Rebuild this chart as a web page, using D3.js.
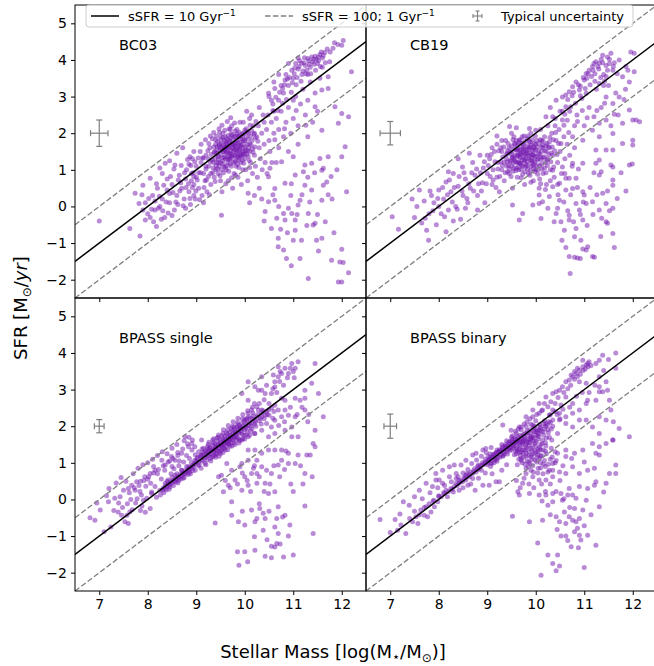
<!DOCTYPE html>
<html>
<head>
<meta charset="utf-8">
<script src="https://cdn.jsdelivr.net/npm/d3@7"></script>
<style>
  body { margin: 0; background: #fff; }
  svg { display: block; font-family: "DejaVu Sans", sans-serif; }
</style>
</head>
<body>
<svg id="chart" width="654" height="666"></svg>
<script>
// panel names, typical uncertainty per panel
const panelNames = ['BC03', 'CB19', 'BPASS single', 'BPASS binary'];
const errX = [0.18, 0.21, 0.10, 0.13];
const errY = [0.36, 0.32, 0.18, 0.33];
const uncPos = [7, 2];
const xTicks = [7, 8, 9, 10, 11, 12];
const yTicks = [-2, -1, 0, 1, 2, 3, 4, 5];
// sSFR lines: log SFR = log M + offset
const lineOffsets = [-8, -7, -9];

const bc03 = [
  [7.0,-0.4],[7.63,-0.6],[7.84,-0.81],[7.74,0.36],[7.9,0.58],[7.95,-0.37],[8.05,0.77],[8.18,-0.55],[8.15,-0.1],[8.22,-0.05],
  [8.3,0.2],[8.36,1.18],[8.56,1.13],[8.4,0.45],[8.45,0.1],[8.5,0.6],[8.1,0.3],[8.2,0.5],[8.0,-0.2],[8.35,-0.3],
  [8.6,0.3],[8.65,0.85],[8.7,0.5],[8.55,-0.1],[8.75,0.2],[8.8,1.0],[8.87,1.36],[8.9,0.7],[8.95,0.3],[8.6,1.45],
  [8.72,1.6],[8.3,0.9],[7.95,0.1],[7.9,-0.1],[8.05,-0.3],[8.25,0.0],[8.28,-0.35],[8.45,0.35],[8.5,-0.25],[8.62,0.05],
  [8.68,0.65],[8.78,0.75],[8.4,0.75],[8.15,0.15],[8.78,-0.05],[8.85,1.15],[8.25,1.05],[8.45,1.25],[8.95,1.5],
  [8.85,0.4],[8.9,0.9],[8.95,0.6],[9.0,1.1],[8.98,0.2],[8.92,1.3],[9.0,0.8],[8.88,0.05],
  [9.05,0.5],[9.1,1.2],[9.15,0.9],[9.08,1.5],[9.2,1.1],[9.12,0.3],[9.18,0.7],[9.1,1.7],[9.2,1.4],[9.15,0.1],
  [9.25,1.3],[9.3,0.9],[9.28,1.6],[9.35,1.2],[9.38,1.5],[9.3,0.6],[9.4,1.0],[9.33,1.85],[9.22,0.4],[9.37,0.8],[9.26,1.1],[9.4,1.7],
  [9.45,1.4],[9.5,1.2],[9.48,1.7],[9.55,1.5],[9.52,1.0],[9.58,1.8],[9.42,1.2],[9.6,1.3],[9.5,0.7],[9.55,2.0],[9.45,0.9],[9.57,1.1],
  [9.6,1.6],[9.43,1.55],[9.5,1.9],[9.53,0.4],
  [9.65,1.5],[9.7,1.3],[9.68,1.8],[9.75,1.6],[9.72,1.1],[9.78,1.9],[9.62,1.0],[9.8,1.4],[9.7,2.1],[9.66,0.7],[9.76,1.2],[9.8,1.7],
  [9.63,1.7],[9.73,2.2],[9.78,0.9],[9.69,1.45],[9.75,0.5],
  [9.85,1.6],[9.9,1.4],[9.88,1.9],[9.95,1.7],[9.92,1.2],[9.98,2.0],[9.82,1.1],[10.0,1.5],[9.9,2.3],[9.86,0.8],[9.96,1.0],[10.0,1.8],
  [9.84,2.1],[9.93,0.6],[9.97,2.3],[9.89,1.55],
  [10.05,1.7],[10.1,1.5],[10.08,2.0],[10.15,1.8],[10.12,1.2],[10.18,2.2],[10.02,1.0],[10.2,1.4],[10.1,2.4],[10.06,0.7],[10.16,0.9],
  [10.2,2.0],[10.04,2.6],[10.14,2.5],
  [10.25,1.9],[10.3,1.6],[10.28,2.2],[10.35,2.0],[10.32,1.3],[10.38,2.5],[10.22,1.1],[10.4,1.7],[10.3,2.7],[10.26,0.8],[10.36,1.0],[10.4,2.3],
  [10.45,2.1],[10.5,1.8],[10.48,2.5],[10.55,2.3],[10.52,1.5],[10.58,2.8],[10.42,1.2],[10.6,2.0],[10.5,3.0],[10.46,0.9],[10.56,1.2],[10.6,2.6],
  [9.45,1.35],[9.55,1.25],[9.62,1.45],[9.68,1.6],[9.72,1.4],[9.8,1.55],[9.85,1.35],[9.9,1.75],[9.95,1.5],[10.0,1.3],
  [9.5,1.6],[9.6,1.9],[9.7,1.75],[9.65,1.2],[9.75,1.85],[9.82,1.25],[9.88,1.65],[9.92,1.85],[9.58,1.55],[9.52,1.4],
  [9.38,1.3],[9.42,1.45],[9.35,1.05],[9.47,1.1],[9.63,1.35],[9.77,1.5],[9.83,1.8],[9.97,1.6],[10.03,1.9],[10.08,1.6],
  [9.31,1.42],[9.36,1.62],[9.41,1.12],[9.44,1.78],[9.46,1.28],[9.49,1.52],[9.51,1.82],[9.54,1.16],[9.56,1.68],[9.59,1.34],
  [9.61,1.58],[9.64,1.84],[9.66,1.28],[9.67,1.66],[9.71,1.52],[9.74,1.34],[9.74,1.96],[9.77,1.68],[9.79,1.22],[9.81,1.92],
  [9.83,1.48],[9.86,1.74],[9.87,1.28],[9.89,2.02],[9.91,1.62],[9.94,1.38],[9.96,1.82],[9.98,1.18],[10.01,1.62],[10.03,2.12],
  [10.04,1.42],[10.07,1.84],[10.09,1.26],[10.11,2.22],[10.13,1.68],[10.17,1.48],[10.19,1.98],[10.21,1.62],[10.23,2.32],[10.27,1.78],
  [9.34,0.92],[9.39,0.68],[9.44,1.02],[9.49,0.84],[9.56,0.92],[9.61,0.62],[9.67,0.96],[9.73,0.78],[9.81,0.86],[9.88,1.06],
  [9.26,1.72],[9.29,1.92],[9.36,2.02],[9.41,1.92],[9.47,2.12],[9.53,2.22],[9.59,2.08],[9.64,2.32],[9.71,2.42],[9.79,2.28],
  [9.58,1.62],[9.63,1.48],[9.69,1.38],[9.73,1.72],[9.76,1.58],[9.81,1.62],[9.84,1.98],[9.92,1.42],[9.95,1.92],[10.0,2.08],
  [9.47,1.66],[9.53,1.58],[9.62,1.72],[9.66,1.94],[9.72,1.98],[9.86,1.42],[9.9,1.52],[9.99,1.44],[10.06,1.52],[10.12,1.92],
  [9.33,1.27],[9.37,1.47],[9.43,1.63],[9.46,1.19],[9.52,1.71],[9.54,1.33],[9.57,1.49],[9.61,1.77],[9.63,1.11],[9.66,1.63],
  [9.69,1.29],[9.7,1.87],[9.73,1.43],[9.76,1.69],[9.79,1.37],[9.82,1.73],[9.84,1.53],[9.87,1.91],[9.89,1.33],[9.92,1.67],
  [9.94,1.97],[9.97,1.41],[9.99,1.79],[10.02,1.53],[10.05,2.03],[10.07,1.37],[10.1,1.71],[10.14,2.07],[10.16,1.57],[10.22,1.87],
  [9.4,1.82],[9.48,2.02],[9.55,1.88],[9.68,2.12],[9.8,2.06],[9.6,1.06],[9.7,1.16],[9.85,1.16],[9.95,1.26],[10.1,1.06],
  [9.2,1.02],[9.15,1.32],[9.05,0.92],[8.95,0.82],[9.25,0.82],
  [8.12,-0.42],[8.18,0.62],[8.24,0.28],[8.31,-0.12],[8.33,0.58],[8.38,0.12],[8.42,-0.18],[8.47,0.82],[8.52,0.38],[8.54,1.02],
  [8.58,0.12],[8.63,0.72],[8.66,0.42],[8.69,1.12],[8.73,0.02],[8.76,0.92],[8.79,0.52],[8.82,1.28],[8.84,0.62],[8.87,0.22],
  [8.89,1.12],[8.92,0.52],[8.94,0.92],[8.97,1.22],[8.99,0.42],[9.02,0.72],[9.04,1.32],[9.07,0.18],[9.09,0.92],[9.13,1.32],
  [9.16,0.52],[9.19,1.82],[9.21,0.72],[9.24,1.52],[9.27,0.32],[9.29,1.22],[7.82,0.08],[7.88,0.32],[8.02,0.22],[8.08,-0.08],
  [10.62,3.22],[10.49,3.09],[10.83,3.45],[10.97,3.72],[11.17,3.91],[11.3,4.04],[11.45,4.1],[11.55,4.15],[11.6,4.05],[11.4,3.95],
  [11.5,3.9],[11.35,3.8],[11.2,3.7],[11.1,3.75],[11.0,3.5],[10.9,3.3],[10.8,3.1],[10.7,2.9],[10.75,3.3],[10.85,3.6],
  [11.05,3.9],[11.25,3.85],[11.65,4.2],[11.7,4.3],[11.85,4.47],[12.03,4.53],[12.0,4.4],[11.75,3.95],[11.6,3.8],[11.72,3.54],
  [12.2,3.68],[11.59,3.18],[11.72,3.22],[11.45,2.72],[11.86,2.72],[12.0,2.54],[12.14,2.45],[11.93,2.27],[11.59,2.08],[12.07,1.63],
  [12.0,1.36],[11.72,1.36],[10.65,2.4],[10.7,2.1],[10.75,2.6],[10.8,1.9],[10.85,2.3],[10.9,2.7],[10.95,2.0],[11.0,2.4],
  [11.05,3.0],[11.1,2.2],[11.15,2.8],[11.2,3.2],[11.25,2.5],[11.3,2.9],[11.35,3.4],[11.4,2.3],[11.45,3.1],[11.5,2.6],
  [11.55,3.5],[11.3,1.9],[11.1,1.7],[10.9,1.5],[10.7,1.6],[10.65,1.2],[11.0,2.9],[10.6,3.4],[10.55,2.9],[10.7,3.6],
  [10.9,3.9],[11.3,3.6],[11.1,4.05],
  [10.64,2.98],[10.68,2.62],[10.72,3.12],[10.78,2.82],[10.82,3.32],[10.86,2.92],[10.92,3.52],[10.96,3.12],[11.02,3.62],[11.06,3.32],
  [11.12,3.82],[11.16,3.42],[11.22,3.92],[11.26,3.62],[11.32,3.98],[11.36,3.62],[11.42,4.02],[11.46,3.72],[11.52,4.08],[11.56,3.82],
  [11.62,4.12],[11.66,3.92],[11.76,4.22],[11.82,4.32],[11.92,4.42],[10.58,2.62],[10.62,1.82],[10.82,2.12],[11.06,2.62],[11.26,2.22],
  [11.03,3.78],[11.13,3.98],[11.23,4.06],[11.33,3.88],[11.43,3.88],[11.48,4.02],[11.38,4.08],[11.18,3.6],[11.28,3.72],[10.98,3.38],
  [10.88,3.48],[10.78,3.22],[11.58,4.22],[11.52,3.98],[11.08,3.52],
  [10.49,0.81],[10.62,0.17],[10.42,-0.14],[10.55,-0.6],[10.69,-0.87],[10.69,-1.1],[10.8,-1.19],[10.86,-1.42],[10.83,-0.37],[10.8,-0.19],
  [10.9,-0.05],[11.04,0.86],[11.21,0.95],[11.24,0.58],[11.38,0.45],[11.62,0.58],[11.69,0.67],[11.59,0.99],[11.62,1.04],[11.04,-0.37],
  [10.97,-0.19],[11.1,0.04],[11.14,0.17],[11.31,-0.19],[11.41,-0.51],[11.45,-0.46],[11.59,-0.87],[11.48,-0.92],[11.17,-0.92],[11.0,-0.92],
  [11.04,-0.65],[11.31,-1.97],[11.79,-1.47],[12.0,-1.17],[12.03,-1.53],[11.93,-2.06],[12.0,-2.06],[12.14,-1.81],[11.59,0.17],[10.62,0.49],
  [10.83,0.63],[10.52,1.04],[10.76,1.22],[11.0,1.36],[11.24,1.13],[11.55,1.31],[11.38,1.18],[10.49,0.13],[10.3,0.5],[10.35,0.2],
  [10.2,0.3],[10.1,0.1],[10.4,-0.4],[10.95,0.3],[11.3,0.8],[11.8,0.2],[11.9,1.0],[10.7,0.0],[9.52,-0.24],[10.07,0.36],
  [10.58,0.32],[10.74,-0.62],[10.88,-0.72],[10.96,0.62],[11.08,-0.22],[11.18,0.32],[11.28,-0.52],[11.34,0.12],[11.5,-0.22],[11.66,-0.42],
  [11.72,0.32],[11.84,-0.72],[11.96,-1.52],[10.66,-0.32],[10.96,-1.62],[11.14,-1.42],[11.44,0.92],[11.78,0.82],[12.1,0.4],[11.52,-1.22]
];

const cb19 = [
  [7.04,-0.28],[7.17,-0.62],[7.79,-0.92],[8.15,-0.69],[7.5,-0.3],[7.55,0.0],[7.65,-0.45],[7.7,0.15],[7.8,-0.2],[7.85,0.3],
  [7.95,-0.5],[7.9,0.1],[8.0,0.45],[8.05,-0.2],[8.1,0.2],[8.15,0.67],[8.2,-0.1],[8.25,0.4],[8.3,0.9],[8.35,0.0],
  [8.4,0.55],[8.45,-0.35],[8.49,1.08],[8.5,0.3],[8.55,0.75],[8.6,0.1],[8.63,1.45],[8.65,0.5],[8.7,1.2],[8.75,0.85],
  [8.8,0.3],[8.85,1.4],[8.9,0.65],[8.92,1.05],[8.95,0.1],[7.6,0.45],[7.75,-0.65],[8.0,0.0],[8.3,-0.4],[8.4,1.3],
  [8.2,0.95],[7.45,0.2],[8.55,-0.05],[8.8,-0.1],[9.3,1.8],[9.2,1.7],[9.1,1.6],[9.5,2.0],[9.6,2.15],[9.0,1.4],
  [9.0,0.9],[9.05,1.3],[9.1,0.6],[9.12,1.0],[9.15,1.5],[9.2,0.8],[9.22,1.2],[9.25,0.4],[9.28,1.6],[9.3,1.0],
  [9.32,1.35],[9.35,0.7],[9.38,1.8],[9.4,1.1],[9.42,1.45],[9.45,0.9],[9.48,1.25],[9.5,1.65],[9.52,0.5],[9.55,1.05],
  [9.57,1.4],[9.6,1.8],[9.62,0.8],[9.65,1.2],[9.67,1.55],[9.7,1.0],[9.72,1.9],[9.75,1.35],[9.77,0.6],[9.8,1.15],
  [9.82,1.65],[9.85,0.9],[9.87,1.45],[9.9,2.0],[9.92,1.2],[9.95,0.7],[9.97,1.6],[10.0,1.0],[10.02,1.8],[10.05,1.3],
  [10.07,0.5],[10.1,2.1],[10.12,1.5],[10.15,0.9],[10.18,1.9],[10.2,1.2],[10.22,0.6],[10.25,2.2],[10.28,1.6],[10.3,1.0],
  [10.33,2.0],[10.35,1.4],[10.38,0.8],[10.4,2.4],[10.42,1.8],[10.45,1.2],[10.48,2.1],[10.5,1.5],[10.53,0.9],[10.55,2.6],
  [10.58,1.9],[10.6,1.3],[9.45,1.6],[9.55,1.3],[9.6,1.55],[9.65,1.0],[9.7,1.45],[9.75,1.7],[9.8,1.3],[9.85,1.6],
  [9.9,1.1],[9.95,1.4],[10.0,1.7],[10.05,1.0],[10.1,1.35],[9.5,1.1],[9.4,1.3],[9.3,1.5],[9.35,1.2],[9.62,1.2],
  [9.72,1.25],[9.82,1.45],[9.92,1.55],[10.15,1.6],[10.25,1.3],[9.78,0.95],[9.88,0.85],[9.98,0.95],[10.08,0.75],[10.18,1.05],
  [10.3,0.7],[10.45,0.6],[10.6,0.9],[10.7,1.4],[10.75,1.1],[10.8,1.6],[10.65,1.7],[9.58,1.7],[9.68,1.35],[9.78,1.55],
  [9.88,1.75],[9.98,1.35],[10.12,1.8],[10.22,1.5],[9.52,1.35],[9.42,0.95],[9.63,1.4],[9.73,1.1],[9.83,1.85],[9.93,1.25],
  [9.31,1.12],[9.34,1.62],[9.37,0.92],[9.39,1.42],[9.43,1.72],[9.44,1.12],[9.47,1.48],[9.49,0.82],[9.51,1.32],[9.53,1.82],
  [9.54,1.18],[9.57,1.58],[9.59,0.98],[9.61,1.38],[9.63,1.68],[9.64,1.08],[9.66,1.42],[9.68,1.82],[9.69,1.18],[9.71,1.58],
  [9.73,0.88],[9.74,1.48],[9.76,1.28],[9.78,1.78],[9.79,1.08],[9.81,1.52],[9.83,1.22],[9.84,1.92],[9.86,1.32],[9.88,1.62],
  [9.89,0.98],[9.91,1.42],[9.93,1.82],[9.94,1.12],[9.96,1.52],[9.98,1.22],[9.99,1.92],[10.01,1.38],[10.03,1.62],[10.04,0.88],
  [10.06,1.52],[10.08,1.12],[10.09,1.82],[10.11,1.28],[10.13,1.02],[10.14,1.68],[10.16,1.32],[10.19,1.52],[10.21,0.92],[10.23,1.72],
  [10.24,1.12],[10.27,1.42],[10.29,1.88],[10.31,1.22],[10.34,1.62],[10.37,1.08],[10.39,1.52],[10.41,2.02],[10.44,1.42],[10.47,1.72],
  [9.58,1.22],[9.62,1.52],[9.67,1.32],[9.72,1.72],[9.77,1.42],[9.82,1.12],[9.87,1.78],[9.92,1.32],[9.97,1.72],[10.02,1.12],
  [9.52,1.52],[9.47,1.22],[9.42,1.52],[9.56,1.72],[9.76,1.92],[9.96,1.02],[10.12,1.62],[10.26,1.62],[10.36,1.82],[10.52,1.72],
  [9.41,1.22],[9.46,1.02],[9.5,1.42],[9.53,0.96],[9.57,1.26],[9.6,1.04],[9.63,1.56],[9.66,1.18],[9.69,1.46],[9.71,1.12],
  [9.74,1.62],[9.77,1.24],[9.8,1.44],[9.83,1.02],[9.86,1.56],[9.89,1.26],[9.91,1.68],[9.94,1.42],[9.97,1.14],[10.0,1.54],
  [10.03,1.26],[10.06,1.72],[10.09,1.42],[10.12,1.16],[10.15,1.78],[10.18,1.36],[10.21,1.66],[10.24,1.26],[10.28,1.76],[10.32,1.46],
  [9.55,1.9],[9.65,1.74],[9.75,1.56],[9.85,1.38],[9.95,1.62],[10.05,1.44],[9.7,0.78],[9.9,0.66],[10.1,0.62],[10.2,0.46],
  [7.72,-0.32],[7.82,0.42],[7.88,-0.12],[7.98,0.22],[8.08,0.52],[8.12,-0.28],[8.18,0.32],[8.22,0.72],[8.28,0.12],[8.32,0.52],
  [8.38,-0.08],[8.42,0.82],[8.48,0.42],[8.52,0.92],[8.58,0.22],[8.62,0.62],[8.68,0.92],[8.72,0.42],[8.78,1.02],[8.82,0.62],
  [8.86,0.92],[8.88,0.42],[8.94,1.22],[8.98,0.62],[9.02,1.12],[9.06,0.82],[9.08,1.42],[9.12,0.72],[9.16,1.22],[9.18,0.52],
  [9.22,1.02],[9.24,1.52],[9.26,0.82],[9.28,1.22],[9.2,1.92],
  [11.55,4.18],[11.38,4.13],[11.96,4.22],[12.03,4.18],[11.24,3.95],[11.31,3.91],[11.17,3.82],[11.1,3.72],[11.04,3.63],[11.52,3.9],
  [11.59,3.72],[11.72,4.0],[11.86,3.82],[12.03,3.68],[11.79,3.54],[11.93,3.4],[10.83,3.4],[10.76,3.27],[10.69,3.13],[10.62,3.04],
  [10.9,3.18],[11.04,3.09],[11.31,3.36],[11.45,2.99],[11.59,2.81],[11.72,2.99],[11.93,2.63],[12.0,2.36],[12.14,2.31],[11.79,2.27],
  [11.45,2.36],[11.31,2.27],[11.17,2.08],[11.31,1.9],[10.97,1.81],[10.76,1.9],[10.55,2.36],[10.35,2.45],[10.21,2.45],[10.62,2.72],
  [10.42,2.9],[10.55,2.99],[9.46,2.18],[9.87,2.13],[10.0,2.08],[9.66,1.81],[12.0,1.81],[12.0,1.68],[11.79,1.72],[11.59,1.99],
  [12.07,2.36],[11.0,3.45],[11.15,3.55],[11.4,3.6],[11.25,3.2],[10.95,2.95],[11.1,2.7],[10.85,2.5],[11.0,2.2],[10.7,2.6],
  [11.35,2.7],[11.5,3.3],[11.65,3.1],[11.2,2.45],[10.8,2.2],[10.65,2.35],[10.5,2.6],[11.45,3.55],[11.3,3.75],[11.45,3.85],
  [11.85,3.2],[11.7,2.5],[11.55,2.2],[10.4,2.2],[10.3,2.7],
  [10.66,2.92],[10.72,2.72],[10.78,3.12],[10.82,2.82],[10.88,3.32],[10.92,3.02],[10.98,3.52],[11.02,3.22],[11.08,3.62],[11.12,3.32],
  [11.18,3.72],[11.22,3.42],[11.28,3.82],[11.34,3.52],[11.38,3.92],[11.42,3.42],[11.48,3.72],[11.52,4.02],[11.62,3.92],[11.68,3.62],
  [10.58,2.22],[10.68,2.02],[10.86,2.32],[10.96,2.62],[11.06,2.42],[11.26,2.62],[11.42,2.82],[11.62,2.52],[11.82,2.92],[11.9,3.72],
  [11.2,3.9],[11.35,4.02],[11.48,4.08],[11.05,3.5],[11.22,3.62],[10.92,3.28],[10.75,3.02],[11.6,3.82],[11.4,3.3],[10.6,2.52],
  [10.69,-1.37],[10.8,-1.39],[10.86,-1.41],[10.71,-1.83],[11.17,-1.37],[11.21,-1.39],[11.04,-1.19],[10.97,-1.16],[11.07,-1.1],[11.62,-1.12],
  [11.59,-0.74],[11.45,-0.42],[11.48,-0.46],[10.93,-0.92],[10.8,-0.83],[10.83,-0.6],[10.59,-0.65],[10.52,-0.42],[10.69,-0.37],[10.97,-0.37],
  [10.9,-0.1],[11.04,0.08],[11.17,0.13],[11.31,-0.1],[11.45,0.08],[11.59,-0.05],[11.38,0.36],[11.59,0.58],[11.59,0.72],[11.31,0.86],
  [11.35,0.95],[11.55,1.13],[11.93,1.13],[11.99,1.16],[11.24,1.18],[10.97,1.18],[10.76,1.18],[10.62,0.77],[10.69,0.77],[10.83,0.77],
  [10.97,0.4],[11.0,0.31],[10.83,0.08],[10.69,-0.24],[10.42,-0.19],[10.45,-0.05],[10.25,-0.05],[10.11,-0.33],[10.14,0.13],[9.94,0.04],
  [10.07,0.31],[10.07,0.08],[11.24,1.54],[11.45,1.54],[11.59,1.54],[11.31,1.27],[11.59,1.08],[9.66,-0.37],[9.73,-0.19],[9.52,0.04],
  [10.49,0.17],[10.62,0.45],[10.28,0.27],[10.35,0.54],[10.49,0.63],[10.76,0.49],[10.35,0.99],[10.55,1.08],
  [10.58,0.12],[10.66,-0.12],[10.72,0.32],[10.78,-0.42],[10.86,0.52],[10.92,-0.22],[10.98,0.12],[11.06,-0.52],[11.12,0.52],[11.18,-0.22],
  [11.26,0.32],[11.36,-0.32],[11.48,0.42],[11.52,-0.12],[11.68,0.22],[11.76,0.92],[11.86,0.42],[10.46,0.32],[10.38,-0.42],[10.54,-0.92],
  [10.62,-1.12],[10.92,-1.42],[11.34,-0.82],[11.2,0.92],[10.88,1.02]
];

const bpassSingle = [
  [6.81,-0.5],[6.91,-0.57],[7.02,-0.29],[7.1,-0.88],[7.24,-0.75],[7.19,-0.06],[7.32,0.03],[7.43,0.07],[7.39,-0.34],[7.46,-0.43],
  [7.53,-0.61],[7.6,-0.66],[7.57,-0.43],[7.63,-0.34],[7.5,0.25],[7.6,0.3],[7.67,0.39],[7.77,0.48],[7.74,0.25],[7.87,0.12],
  [7.98,0.03],[7.91,-0.02],[8.08,0.16],[7.94,0.62],[8.05,0.71],[8.15,0.8],[8.29,1.07],[8.36,0.94],[8.49,1.17],[8.56,1.07],
  [8.7,1.26],[8.84,1.44],[8.91,1.35],[8.97,1.44],[8.36,0.44],[8.42,0.53],[8.56,0.66],[8.7,0.8],[8.84,0.89],[8.97,1.07],
  [9.11,1.21],[9.25,1.3],[9.39,1.39],[9.52,1.48],[9.66,1.57],[8.15,0.35],[8.25,0.25],[8.08,0.2],
  [7.2,0.3],[7.35,0.45],[7.45,0.6],[7.55,0.5],[7.7,0.7],[7.8,0.85],[7.9,0.95],[8.0,1.0],[8.1,1.1],[8.2,1.2],
  [8.3,1.3],[8.4,1.25],[8.5,1.4],[8.6,1.5],[8.75,1.6],[8.85,1.7],[7.85,0.5],[8.0,0.55],[8.2,0.7],[8.35,0.8],
  [8.5,0.9],[8.65,1.05],[8.8,1.2],[7.4,-0.1],[7.3,-0.3],[7.65,0.0],[7.75,-0.1],[7.85,-0.3],[7.95,-0.35],[8.05,-0.25],
  [7.15,0.1],[6.95,-0.1],[8.77,1.71],[8.91,1.53],[9.11,1.62],[8.62,1.2],[8.45,1.05],[8.12,0.9],
  [9.0,1.05],[9.03,1.15],[9.06,0.95],[9.1,1.2],[9.13,1.05],[9.16,1.25],[9.2,1.15],[9.22,1.3],[9.25,1.2],[9.28,1.4],
  [9.3,1.25],[9.33,1.35],[9.36,1.3],[9.4,1.45],[9.42,1.35],[9.45,1.5],[9.48,1.4],[9.5,1.55],[9.53,1.45],[9.56,1.6],
  [9.58,1.5],[9.6,1.65],[9.63,1.55],[9.66,1.7],[9.68,1.6],[9.7,1.75],[9.73,1.65],[9.76,1.8],[9.78,1.7],[9.8,1.85],
  [9.83,1.75],[9.86,1.9],[9.88,1.8],[9.9,1.95],[9.93,1.85],[9.96,2.0],[10.0,1.9],[10.03,2.05],[10.06,1.95],[10.1,2.1],
  [10.13,2.0],[10.16,2.2],[10.2,2.05],[10.25,2.25],[10.3,2.15],[10.35,2.35],[9.05,1.3],[9.15,1.4],[9.25,1.5],[9.35,1.55],
  [9.45,1.7],[9.55,1.8],[9.65,1.9],[9.75,2.0],[9.85,2.1],[9.95,2.2],[9.1,0.85],[9.2,0.95],[9.3,1.05],[9.4,1.15],
  [9.5,1.25],[9.6,1.35],[9.7,1.45],[9.8,1.5],[9.9,1.6],[10.0,1.65],[10.1,1.75],[10.2,1.8],[9.38,1.2],[9.48,1.3],
  [9.58,1.4],[9.68,1.5],[9.78,1.55],[9.88,1.65],[9.98,1.75],[9.32,1.15],[9.42,1.25],[9.52,1.35],[9.62,1.45],[9.72,1.55],
  [8.95,0.95],[8.9,0.85],[8.85,0.8],[8.8,0.75],[8.75,0.7],[8.7,0.65],[8.65,0.6],[8.6,0.55],[8.55,0.5],[8.5,0.45],
  [8.45,0.4],[8.4,0.35],[8.35,0.3],[8.3,0.25],[8.9,1.0],[8.8,0.9],[8.7,0.8],[8.6,0.7],[8.5,0.6],[8.4,0.5],
  [8.62,0.45],[8.75,0.6],[8.88,0.7],[8.98,0.8],[10.4,2.2],[10.45,2.4],[10.5,2.3],[10.55,2.5],[10.6,2.4],
  [9.02,1.12],[9.05,1.02],[9.08,1.18],[9.11,1.08],[9.14,1.28],[9.17,1.14],[9.19,1.32],[9.21,1.22],[9.24,1.38],[9.27,1.24],
  [9.29,1.42],[9.31,1.32],[9.34,1.48],[9.37,1.36],[9.39,1.52],[9.41,1.42],[9.44,1.58],[9.46,1.46],[9.49,1.62],[9.51,1.5],
  [9.54,1.66],[9.57,1.54],[9.59,1.72],[9.61,1.6],[9.64,1.78],[9.67,1.64],[9.69,1.82],[9.71,1.7],[9.74,1.88],[9.77,1.74],
  [9.79,1.92],[9.81,1.8],[9.84,1.98],[9.87,1.84],[9.89,2.02],[9.91,1.88],[9.94,2.08],[9.97,1.94],[9.99,2.12],[10.02,1.98],
  [10.04,2.16],[10.08,2.02],[10.11,2.22],[10.14,2.08],[10.18,2.28],[10.22,2.12],[10.27,2.32],[10.32,2.22],[10.38,2.42],[10.42,2.3],
  [9.22,1.08],[9.35,1.18],[9.47,1.32],[9.56,1.4],[9.66,1.52],[9.75,1.62],[9.85,1.68],[9.95,1.78],[10.05,1.84],[10.15,1.92],
  [9.26,1.56],[9.36,1.66],[9.46,1.76],[9.56,1.9],[9.66,2.02],[9.76,2.12],[9.86,2.22],[9.96,2.32],[10.06,2.42],[10.16,2.52],
  [9.12,1.38],[9.18,0.98],[9.23,1.44],[9.29,1.12],[9.34,1.62],[9.4,1.26],[9.43,1.68],[9.47,1.18],[9.53,1.74],[9.55,1.28],
  [9.59,1.56],[9.62,1.82],[9.65,1.36],[9.69,1.66],[9.72,1.94],[9.74,1.46],[9.78,1.98],[9.82,1.62],[9.86,2.04],[9.88,1.54],
  [9.92,1.96],[9.96,1.66],[10.0,2.18],[10.03,1.76],[10.08,2.26],[10.12,1.86],[10.17,2.36],[10.23,2.0],[10.28,2.44],[10.34,2.06],
  [8.58,0.48],[8.68,0.56],[8.78,0.7],[8.86,0.74],[8.94,0.88],[9.04,0.92],[8.46,0.34],[8.38,0.26],[8.26,0.12],[8.18,0.06],
  [8.64,0.92],[8.54,0.84],[8.74,1.02],[8.86,1.12],[8.98,1.22],[7.84,0.22],[7.96,0.36],[8.06,0.44],[8.28,0.56],[8.48,0.7],
  [8.32,0.32],[8.37,0.38],[8.43,0.42],[8.47,0.48],[8.52,0.52],[8.57,0.58],[8.62,0.62],[8.67,0.68],[8.72,0.72],[8.77,0.78],
  [8.82,0.82],[8.87,0.88],[8.92,0.92],[8.97,0.98],[8.33,0.18],[8.44,0.28],[8.53,0.38],[8.64,0.52],[8.73,0.58],[8.83,0.68],
  [8.93,0.78],[7.62,0.18],[7.72,0.32],[7.82,0.38],[7.92,0.52],[8.02,0.62],[8.12,0.72],[8.22,0.82],[8.32,0.92],[8.42,1.02],
  [8.52,1.12],[8.62,1.28],[8.72,1.38],[8.82,1.52],[8.92,1.62],[7.48,-0.22],[7.58,-0.12],[7.68,-0.28],[7.78,0.02],[7.88,-0.18],
  [10.97,3.71],[11.1,3.76],[11.0,3.49],[10.9,3.44],[10.76,3.44],[10.69,3.35],[10.62,3.21],[10.45,3.12],[10.35,2.98],[10.28,2.98],
  [10.42,2.89],[10.55,2.89],[10.62,3.07],[10.83,2.71],[10.76,2.76],[10.62,2.57],[10.49,2.44],[10.35,2.44],[10.25,2.53],[10.14,2.44],
  [10.07,2.35],[10.04,2.21],[10.21,2.16],[10.35,2.26],[10.45,2.07],[10.55,1.98],[10.62,2.16],[10.76,2.26],[10.9,2.3],[10.69,2.44],
  [10.83,2.44],[11.04,2.76],[11.14,2.71],[11.24,2.98],[11.24,2.76],[11.45,3.71],[11.38,3.17],[11.52,2.89],[11.62,2.26],[11.45,1.89],
  [11.41,1.53],[11.24,2.44],[11.04,2.26],[10.97,1.98],[11.1,1.71],[10.97,1.71],[10.83,1.89],[10.62,1.8],[10.49,1.71],[10.35,1.89],
  [10.21,1.8],[10.07,1.71],[9.94,1.62],[9.8,1.71],[9.94,2.89],[10.07,2.71],[10.21,3.08],[10.07,3.21],[10.35,3.35],[10.69,3.62],
  [10.83,3.58],[10.73,3.49],[10.59,3.4],[11.04,3.58],
  [10.3,2.62],[10.4,2.72],[10.5,2.62],[10.58,3.02],[10.66,2.92],[10.72,3.22],[10.8,3.12],[10.88,3.32],[10.94,3.58],[11.02,3.32],
  [10.46,2.32],[10.58,2.22],[10.7,2.02],[10.82,2.12],[10.94,2.52],[11.08,2.32],[11.18,2.52],[11.32,2.32],[11.3,2.12],[10.2,2.62],
  [9.39,-0.64],[9.73,-0.43],[9.87,-0.61],[10.0,-0.7],[10.21,-0.61],[10.25,-0.52],[10.14,-0.29],[10.31,-0.25],[10.38,-0.38],[10.42,-0.52],
  [10.38,-0.84],[10.62,-0.75],[10.69,-0.93],[10.66,-1.2],[10.55,-1.28],[10.62,-1.3],[10.73,-1.22],[10.8,-1.57],[11.0,-1.52],[10.42,-1.55],
  [10.55,-1.59],[10.21,-1.39],[10.0,-1.43],[9.85,-1.43],[9.88,-1.8],[10.06,-1.7],[10.83,-0.43],[10.93,-0.7],[10.78,-0.48],[10.69,-0.2],
  [10.62,0.21],[10.49,0.16],[10.42,0.44],[10.25,0.44],[10.07,0.39],[9.94,0.25],[9.73,-0.06],[9.66,0.39],[9.56,0.21],[9.46,0.62],
  [9.52,0.66],[9.8,0.53],[9.9,0.89],[10.0,0.62],[10.14,0.71],[10.25,0.71],[10.35,0.89],[10.45,0.8],[10.55,0.71],[10.69,0.94],
  [10.76,1.07],[10.9,0.98],[11.04,0.98],[11.1,1.21],[11.24,0.71],[11.24,-0.18],[11.41,-0.93],[11.39,0.62],[11.28,1.21],[11.35,1.21],
  [11.45,1.44],[10.62,1.35],[10.49,1.35],[10.76,1.35],[10.9,1.26],[10.18,0.85],[9.94,0.98],[9.73,0.8],[9.63,0.98],[10.07,1.07],
  [10.07,1.35],[10.21,1.35],[10.35,1.26],[10.25,1.07],
  [9.6,0.52],[9.7,0.32],[9.85,0.42],[9.95,0.72],[10.05,0.52],[10.12,0.22],[10.2,0.92],[10.3,0.62],[10.4,0.22],[10.52,0.42],
  [10.6,0.92],[10.72,0.62],[10.82,0.82],[10.95,0.42],[11.15,0.92],[10.3,-0.12],[10.5,-0.32],[10.66,-0.52],[10.9,-1.0],[10.2,-1.02],
  [10.46,-1.1],[9.95,-0.32],[10.85,1.32],[11.0,0.22],[11.2,0.42]
];

const bpassBinary = [
  [7.15,-0.84],[7.22,-0.7],[7.32,-0.93],[7.46,-0.61],[7.53,-0.47],[7.57,-0.66],[7.63,-0.29],[7.7,-0.43],[7.74,-0.2],[7.77,-0.47],
  [7.84,-0.34],[7.91,-0.2],[7.98,-0.06],[8.05,0.07],[8.12,0.16],[8.18,0.07],[8.25,0.3],[8.32,0.35],[8.36,0.44],[8.42,0.25],
  [8.49,0.48],[8.56,0.53],[8.63,0.62],[8.7,0.71],[8.77,0.75],[8.84,0.85],[8.91,0.94],[8.97,1.03],[9.04,1.07],[9.11,1.16],
  [9.18,1.26],[9.25,1.3],[9.32,1.39],[9.39,1.44],[9.46,1.53],[9.52,1.57],[8.36,0.57],[8.42,0.44],[8.56,0.66],[8.7,0.57],
  [8.6,0.39],[8.3,0.2],[8.15,0.25],[8.0,0.1],[7.88,-0.05],[8.8,0.9],[8.88,0.8],[9.0,0.95],[9.08,1.0],[9.15,1.1],
  [6.79,-0.55],[7.27,-0.06],[7.39,-0.16],[7.5,0.07],[7.6,0.25],[7.74,0.44],[7.87,0.35],[7.94,0.53],[8.01,0.53],[8.08,0.44],
  [8.22,0.62],[8.36,0.71],[8.46,0.94],[8.56,1.07],[8.7,1.21],[8.77,1.26],[8.91,1.35],[8.97,1.39],[8.22,0.89],[8.32,0.94],
  [8.08,0.8],[7.94,0.71],[7.2,-0.4],[7.0,-0.9],[7.1,-0.55],
  [8.91,0.39],[9.04,0.39],[9.18,0.48],[9.25,0.48],[8.75,0.25],[9.1,0.7],[9.3,0.8],[9.4,0.95],
  [9.0,1.0],[9.04,1.1],[9.07,0.9],[9.1,1.15],[9.14,1.0],[9.17,1.2],[9.2,1.1],[9.23,1.3],[9.26,1.15],[9.3,1.35],
  [9.33,1.2],[9.36,1.4],[9.4,1.3],[9.43,1.45],[9.46,1.35],[9.5,1.5],[9.53,1.4],[9.56,1.55],[9.6,1.45],[9.63,1.6],
  [9.66,1.5],[9.7,1.65],[9.73,1.55],[9.76,1.7],[9.8,1.6],[9.83,1.75],[9.86,1.65],[9.9,1.8],[9.93,1.7],[9.96,1.85],
  [10.0,1.75],[10.03,1.9],[10.06,1.8],[10.1,1.95],[10.15,1.85],[10.2,2.0],[10.25,1.9],[10.3,2.1],[9.6,1.25],[9.7,1.3],
  [9.8,1.35],[9.9,1.4],[10.0,1.45],[10.1,1.5],[10.2,1.55],[9.65,1.1],[9.75,1.15],[9.85,1.2],[9.95,1.25],[10.05,1.3],
  [10.15,1.35],[9.2,1.35],[9.3,1.5],[9.4,1.6],[9.5,1.7],[9.6,1.8],[9.7,1.9],[9.8,2.0],[9.9,2.05],[10.0,2.15],
  [9.35,1.25],[9.45,1.4],[9.55,1.45],[9.65,1.55],[9.75,1.6],[9.85,1.55],[9.95,1.6],[10.05,1.65],[9.58,1.65],[9.68,1.75],
  [9.78,1.8],[9.88,1.9],[9.98,2.0],[10.08,2.05],[10.18,2.15],[10.28,2.3],[10.35,2.0],[10.4,2.4],[10.45,1.8],[10.5,2.2],
  [9.62,0.95],[9.72,1.0],[9.82,1.05],[9.92,1.1],[10.02,1.15],[10.12,1.2],[10.22,1.25],[10.32,1.4],[10.4,1.3],
  [10.1,1.0],[10.2,0.9],[10.3,1.1],[10.35,0.8],[10.4,1.0],[10.25,0.75],[9.85,0.9],[9.95,0.75],[10.05,0.85],[10.15,0.7],
  [9.02,1.06],[9.06,1.14],[9.09,0.98],[9.12,1.22],[9.16,1.08],[9.19,1.28],[9.22,1.16],[9.25,1.36],[9.28,1.22],[9.31,1.44],
  [9.34,1.3],[9.38,1.5],[9.41,1.36],[9.44,1.56],[9.48,1.42],[9.51,1.62],[9.54,1.48],[9.58,1.56],[9.61,1.38],[9.64,1.66],
  [9.68,1.44],[9.71,1.72],[9.74,1.5],[9.78,1.66],[9.81,1.42],[9.84,1.82],[9.88,1.56],[9.91,1.72],[9.94,1.48],[9.98,1.86],
  [10.01,1.58],[10.04,1.76],[10.08,1.42],[10.11,1.86],[10.14,1.62],[10.18,1.92],[10.21,1.46],[10.24,2.02],[10.28,1.7],[10.32,1.92],
  [9.56,1.22],[9.62,1.32],[9.68,1.2],[9.74,1.26],[9.8,1.18],[9.86,1.3],[9.92,1.22],[9.98,1.34],[10.04,1.22],[10.1,1.36],
  [9.52,1.74],[9.58,1.86],[9.64,1.92],[9.7,1.98],[9.76,2.06],[9.82,2.12],[9.88,2.2],[9.94,2.26],[10.02,2.32],[10.12,2.42],
  [9.7,1.06],[9.78,0.96],[9.86,1.02],[9.94,0.92],[10.02,1.02],[10.1,0.86],[10.18,1.06],[10.26,0.96],[10.34,1.16],[10.42,1.06],
  [9.6,1.58],[9.66,1.38],[9.72,1.58],[9.76,1.36],[9.82,1.56],[9.9,1.62],[9.96,1.68],[10.06,1.72],[10.16,1.76],[10.26,1.82],
  [9.14,1.24],[9.2,1.04],[9.27,1.32],[9.32,1.18],[9.37,1.46],[9.42,1.24],[9.47,1.58],[9.5,1.34],[9.55,1.66],[9.59,1.32],
  [9.62,1.72],[9.66,1.28],[9.69,1.58],[9.72,1.36],[9.75,1.78],[9.79,1.48],[9.82,1.88],[9.85,1.46],[9.89,1.68],[9.92,1.36],
  [9.95,1.96],[9.99,1.54],[10.02,1.86],[10.05,1.38],[10.09,1.98],[10.13,1.52],[10.17,2.06],[10.22,1.68],[10.27,2.12],[10.33,1.62],
  [9.7,1.12],[9.8,1.26],[9.9,1.16],[10.0,1.28],[10.1,1.18],[10.2,1.32],[9.88,0.98],[9.98,1.08],[10.08,1.12],[10.16,0.96],
  [8.42,0.52],[8.52,0.6],[8.58,0.7],[8.66,0.74],[8.74,0.84],[8.82,0.94],[8.9,1.0],[8.96,1.1],[9.02,1.18],[9.06,1.24],
  [7.4,-0.52],[7.5,-0.32],[7.6,-0.42],[7.7,-0.22],[7.8,-0.12],[7.9,-0.02],[8.0,0.08],[8.1,0.18],[8.2,0.22],[8.28,0.28],
  [8.38,0.38],[8.46,0.52],[8.54,0.58],[8.62,0.68],[8.72,0.78],[8.8,0.82],[8.86,0.92],[8.94,0.98],[8.4,0.62],[8.5,0.72],
  [8.6,0.82],[8.68,0.98],[8.78,1.08],[8.88,1.18],[8.98,1.28],[9.08,1.42],[7.82,0.18],[7.98,0.32],[8.12,0.38],[8.26,0.48],
  [8.5,0.32],[8.66,0.42],[8.82,0.58],[8.96,0.72],[7.66,0.02],
  [11.65,4.0],[11.38,3.94],[11.31,3.8],[11.24,3.71],[11.1,3.76],[11.04,3.67],[10.97,3.62],[10.9,3.53],[10.83,3.44],[10.76,3.35],
  [10.69,3.26],[10.62,3.21],[10.55,3.08],[10.49,2.98],[10.42,2.94],[10.35,2.89],[10.9,3.21],[11.04,3.17],[11.31,3.35],[11.45,3.21],
  [11.31,2.94],[11.65,3.58],[11.52,2.71],[11.38,2.94],[11.07,2.71],[11.04,2.62],[10.9,2.44],[10.76,2.35],[10.62,2.26],[10.49,2.35],
  [10.35,2.44],[10.25,2.53],[10.14,2.44],[10.07,2.35],[10.62,2.8],[10.76,2.62],[10.21,2.07],[10.35,2.17],[10.49,2.17],[10.62,2.07],
  [10.76,1.98],[10.9,2.17],[11.04,2.17],[11.17,1.98],[11.31,2.26],[11.45,2.17],[11.31,1.8],[11.72,1.94],[11.59,1.62],[11.93,1.71],
  [9.32,2.03],[9.49,1.89],[9.66,1.98],[9.8,2.26],[9.94,2.44],[10.07,2.62],[10.21,2.8],[10.31,2.67],[10.97,3.8],[11.07,3.71],
  [10.86,3.58],[10.8,3.49],[10.73,3.4],[11.31,3.08],[11.24,2.71],[9.94,2.03],[10.07,1.89],[11.48,2.98],[11.55,2.44],
  [10.4,2.62],[10.46,2.78],[10.52,2.58],[10.58,2.92],[10.66,3.02],[10.72,3.12],[10.8,3.28],[10.86,3.36],[10.92,3.42],[10.98,3.52],
  [11.02,3.56],[11.08,3.62],[11.14,3.66],[10.44,2.32],[10.56,2.46],[10.7,2.52],[10.84,2.82],[10.96,2.92],[11.1,2.92],[11.22,3.12],
  [11.4,3.52],[11.5,3.82],[10.3,2.32],[10.18,2.62],[11.6,2.12],
  [9.52,-0.46],[9.87,-0.61],[10.04,-1.19],[10.13,-0.04],[10.14,-0.57],[10.25,-0.16],[10.35,-0.06],[10.42,-0.47],[10.49,-0.61],[10.52,-1.0],
  [10.62,-1.0],[10.62,-0.66],[10.69,-0.47],[10.59,-0.34],[10.76,-0.57],[10.83,-0.61],[10.86,-0.79],[10.8,-0.88],[10.9,-0.98],[10.93,-1.11],
  [10.73,-1.29],[11.07,-0.98],[11.24,-1.25],[11.31,-0.2],[11.04,-0.02],[10.83,0.03],[10.66,0.12],[10.52,0.16],[10.35,0.16],[10.21,0.12],
  [10.07,0.12],[10.25,-1.52],[10.45,-1.52],[10.35,-1.75],[10.49,-1.82],[10.42,-1.95],[10.11,-2.07],[11.0,-1.86],[10.8,-0.25],[10.97,-0.29],
  [10.55,-0.02],[10.69,0.3],[10.9,0.35],[11.07,0.3],[11.24,0.48],[11.21,0.39],[11.45,0.44],[11.52,0.71],[11.65,0.71],[11.65,0.94],
  [11.31,1.21],[11.24,1.26],[11.17,1.53],[11.31,1.44],[11.45,1.53],[11.59,1.62],[10.62,1.17],[10.76,0.89],[10.62,0.71],[10.49,0.75],
  [10.35,0.62],[10.21,0.53],[10.07,0.53],[9.94,0.62],[9.8,0.71],[9.73,0.44],[9.63,0.21],[9.66,0.12],[9.87,0.16],[10.28,0.8],
  [10.35,0.98],[10.45,1.26],[10.62,1.35],[10.8,1.26],[10.97,1.35],[11.07,0.8],[11.21,0.85],[10.9,0.71],[9.8,0.85],[9.9,0.8],
  [9.6,0.52],[9.68,0.32],[9.76,0.58],[9.86,0.42],[9.96,0.32],[10.04,0.72],[10.12,0.42],[10.2,0.22],[10.3,0.42],[10.42,0.22],
  [10.5,0.52],[10.58,0.02],[10.7,-0.22],[10.76,0.12],[10.9,-0.52],[11.0,-0.72],[10.44,-0.82],[10.66,-1.12],[10.88,-1.32],[10.3,-0.42],
  [11.14,-0.42],[11.4,0.2],[10.56,0.92],[10.74,1.12],[11.0,1.02]
];

const panelData = [bc03, cb19, bpassSingle, bpassBinary];

const svg = d3.select('#chart');

const pw = 291, ph = 293;
const panelLeft = [75, 366];
const panelTop = [5, 298];

const x = d3.scaleLinear().domain([6.5, 12.5]).range([0, pw]);
const y = d3.scaleLinear().domain([-2.5, 5.5]).range([ph, 0]);

const pointColor = '#7418b0';
const greyLine = '#7f7f7f';

panelData.forEach((pts, i) => {
  let col = i % 2, row = Math.floor(i / 2);
  let g = svg.append('g')
    .attr('transform', `translate(${panelLeft[col]},${panelTop[row]})`);

  g.append('clipPath').attr('id', 'clip' + i)
    .append('rect').attr('width', pw).attr('height', ph);

  let inner = g.append('g').attr('clip-path', `url(#clip${i})`);

  inner.selectAll('circle.pt')
    .data(pts)
    .enter()
    .append('circle')
    .attr('class', 'pt')
    .attr('cx', d => x(d[0]))
    .attr('cy', d => y(d[1]))
    .attr('r', 2.5)
    .style('fill', pointColor)
    .style('fill-opacity', 0.5);

  // sSFR lines
  lineOffsets.forEach((off, k) => {
    inner.append('line')
      .attr('x1', x(6.5)).attr('y1', y(6.5 + off))
      .attr('x2', x(12.5)).attr('y2', y(12.5 + off))
      .style('stroke', k == 0 ? '#000' : greyLine)
      .style('stroke-width', k == 0 ? 1.5 : 1.3)
      .style('stroke-dasharray', k == 0 ? null : '5.5,2.4');
  });

  // typical uncertainty
  let ex = errX[i], ey = errY[i];
  let eb = inner.append('g').style('stroke', greyLine).style('stroke-width', 1.2);
  eb.append('line')
    .attr('x1', x(uncPos[0] - ex)).attr('x2', x(uncPos[0] + ex))
    .attr('y1', y(uncPos[1])).attr('y2', y(uncPos[1]));
  eb.append('line')
    .attr('x1', x(uncPos[0])).attr('x2', x(uncPos[0]))
    .attr('y1', y(uncPos[1] - ey)).attr('y2', y(uncPos[1] + ey));
  [-ex, ex].forEach(d => {
    eb.append('line')
      .attr('x1', x(uncPos[0] + d)).attr('x2', x(uncPos[0] + d))
      .attr('y1', y(uncPos[1]) - 3).attr('y2', y(uncPos[1]) + 3);
  });
  [-ey, ey].forEach(d => {
    eb.append('line')
      .attr('x1', x(uncPos[0]) - 3).attr('x2', x(uncPos[0]) + 3)
      .attr('y1', y(uncPos[1] + d)).attr('y2', y(uncPos[1] + d));
  });

  // panel label
  g.append('text')
    .attr('x', 44).attr('y', 45)
    .style('font-size', '14.5px')
    .text(panelNames[i]);

  // axes
  let xAxis = d3.axisBottom(x).tickValues(xTicks).tickSize(4).tickPadding(4)
    .tickFormat(row == 1 ? d3.format('d') : '');
  let yAxis = d3.axisLeft(y).tickValues(yTicks).tickSize(4).tickPadding(4)
    .tickFormat(col == 0 ? (d => d < 0 ? '\u2212' + Math.abs(d) : d) : '');

  let ga = g.append('g').attr('transform', `translate(0,${ph})`).call(xAxis);
  let gb = g.append('g').call(yAxis);
  [ga, gb].forEach(a => {
    a.select('.domain').remove();
    a.selectAll('text').style('font-size', '14px').style('font-family', '"DejaVu Sans", sans-serif').attr('fill', '#000');
    a.selectAll('line').attr('stroke', '#000');
  });

  g.append('rect')
    .attr('width', pw).attr('height', ph)
    .style('fill', 'none')
    .style('stroke', '#000')
    .style('stroke-width', 1);
});

// legend
const leg = svg.append('g');
leg.append('rect')
  .attr('x', 86).attr('y', 5).attr('width', 547).attr('height', 22)
  .attr('rx', 3)
  .style('fill', '#fff').style('fill-opacity', 0.8)
  .style('stroke', '#cccccc').style('stroke-width', 1);
const legY = 16;
leg.append('line').attr('x1', 91).attr('x2', 119).attr('y1', legY).attr('y2', legY)
  .style('stroke', '#000').style('stroke-width', 1.5);
leg.append('line').attr('x1', 265).attr('x2', 293).attr('y1', legY).attr('y2', legY)
  .style('stroke', greyLine).style('stroke-width', 1.3).style('stroke-dasharray', '5.5,2.4');
const legIcon = leg.append('g').style('stroke', greyLine).style('stroke-width', 1.1);
legIcon.append('line').attr('x1', 473).attr('x2', 482).attr('y1', legY).attr('y2', legY);
legIcon.append('line').attr('x1', 477.5).attr('x2', 477.5).attr('y1', legY - 5).attr('y2', legY + 5);
legIcon.append('line').attr('x1', 473).attr('x2', 473).attr('y1', legY - 2).attr('y2', legY + 2);
legIcon.append('line').attr('x1', 482).attr('x2', 482).attr('y1', legY - 2).attr('y2', legY + 2);
legIcon.append('line').attr('x1', 475.5).attr('x2', 479.5).attr('y1', legY - 5).attr('y2', legY - 5);
legIcon.append('line').attr('x1', 475.5).attr('x2', 479.5).attr('y1', legY + 5).attr('y2', legY + 5);

function legText(xp, main, sup) {
  let t = leg.append('text').attr('x', xp).attr('y', legY + 5).style('font-size', '13px');
  t.append('tspan').text(main);
  if (sup) t.append('tspan').attr('dy', -5).style('font-size', '9px').text(sup);
}
legText(128, 'sSFR = 10 Gyr', '\u22121');
legText(302, 'sSFR = 100; 1 Gyr', '\u22121');
legText(501, 'Typical uncertainty');

// axis titles
const xt = svg.append('text')
  .attr('x', 333).attr('y', 658)
  .attr('text-anchor', 'middle')
  .style('font-size', '18px');
xt.append('tspan').text('Stellar Mass [log(M');
xt.append('tspan').attr('dy', 3).style('font-size', '13px').text('\u22c6');
xt.append('tspan').attr('dy', -3).text('/M');
xt.append('tspan').attr('dy', 4).style('font-size', '12px').text('\u2299');
xt.append('tspan').attr('dy', -4).text(')]');

const yt = svg.append('text')
  .attr('transform', 'translate(27,308) rotate(-90)')
  .attr('text-anchor', 'middle')
  .style('font-size', '18px');
yt.append('tspan').text('SFR [M');
yt.append('tspan').attr('dy', 4).style('font-size', '12px').text('\u2299');
yt.append('tspan').attr('dy', -4).text('/');
yt.append('tspan').style('font-style', 'italic').text('yr');
yt.append('tspan').text(']');
</script>
</body>
</html>
